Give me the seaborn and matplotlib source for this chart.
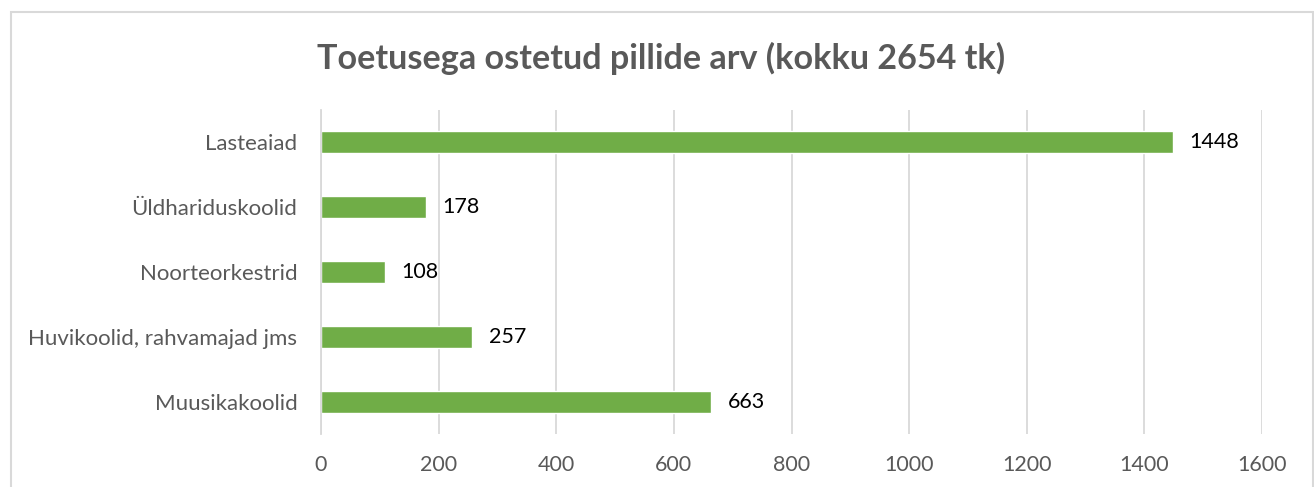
import matplotlib
matplotlib.use("Agg")
import matplotlib.pyplot as plt
from matplotlib.patches import Rectangle
from matplotlib.ticker import FixedLocator
import seaborn as sns
import pandas as pd

categories = ["Lasteaiad", "Üldhariduskoolid", "Noorteorkestrid",
              "Huvikoolid, rahvamajad jms", "Muusikakoolid"]
counts = [1448, 178, 108, 257, 663]
title = "Toetusega ostetud pillide arv (kokku 2654 tk)"
xticks = [0, 200, 400, 600, 800, 1000, 1200, 1400, 1600]

df = pd.DataFrame({"category": categories, "count": counts})

sns.set_style("white")
plt.rcParams["font.family"] = ["Lato", "DejaVu Sans"]

W, H = 1314, 487
fig = plt.figure(figsize=(W / 100, H / 100), dpi=100)
ax = fig.add_axes([321 / W, 1 - 434 / H, (1262 - 321) / W, (434 - 110) / H])

sns.barplot(data=df, y="category", x="count", orient="h", color="#70AD47",
            saturation=1, width=0.34, ax=ax)

ax.set_xlim(0, 1600)
ax.set_ylim(len(categories) - 0.5, -0.5)
ax.set_xticks(xticks)
ax.set_xticklabels([str(t) for t in xticks])
ax.set_xlabel("")
ax.set_ylabel("")

ax.grid(axis="x", color="#D9D9D9", linewidth=1.3)
ax.set_axisbelow(True)
for s in ["top", "right", "bottom"]:
    ax.spines[s].set_visible(False)
ax.spines["left"].set_color("#D9D9D9")
ax.spines["left"].set_linewidth(1.3)

ax.tick_params(axis="x", length=0, pad=15, labelsize=15.5, labelcolor="#595959")
ax.tick_params(axis="y", which="major", length=0, pad=17, labelsize=16,
               labelcolor="#595959")
ax.yaxis.set_minor_locator(FixedLocator([i - 0.5 for i in range(len(categories) + 1)]))
ax.tick_params(axis="y", which="minor", length=6, width=1.3, color="#D9D9D9")

for cont in ax.containers:
    ax.bar_label(cont, labels=[str(v) for v in counts], padding=12,
                 fontsize=15.5, color="black")

fig.text(661 / W, 1 - 58 / H, title, ha="center", va="center",
         fontsize=24.6, fontweight="bold", color="#595959")

fig.patches.append(Rectangle((11 / W, -0.1), (1313 - 11) / W, 1.1 - 12 / H,
                             transform=fig.transFigure, fill=False,
                             edgecolor="#D9D9D9", linewidth=1.5))

fig.savefig("out.png", dpi=100)
